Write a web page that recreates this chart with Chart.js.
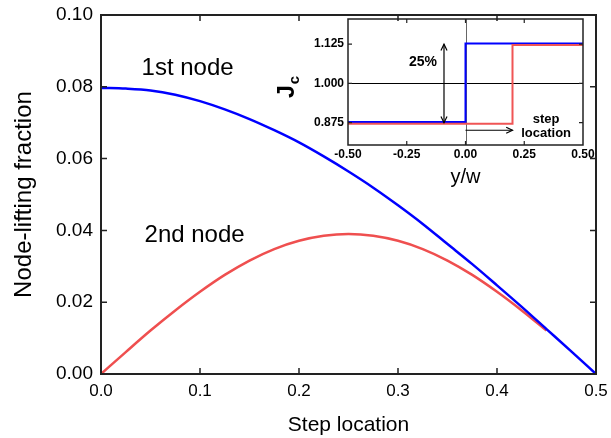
<!DOCTYPE html>
<html><head><meta charset="utf-8">
<script src="https://cdn.jsdelivr.net/npm/chart.js@4/dist/chart.umd.min.js"></script>
<style>
html,body{margin:0;padding:0;background:#fff;}
#wrap{position:relative;width:611px;height:438px;overflow:hidden;}
#main{position:absolute;left:0;top:0;}
#inset{position:absolute;left:270px;top:0;}
</style></head><body>
<div id="wrap">
<canvas id="main" width="611" height="438"></canvas>
<canvas id="inset" width="330" height="200"></canvas>
</div>
<script>
// ---- main chart data ----
const stepLocation = [0, 0.025, 0.05, 0.075, 0.1, 0.125, 0.15, 0.175, 0.2, 0.225, 0.25, 0.275, 0.3, 0.325, 0.35, 0.375, 0.4, 0.425, 0.45, 0.475, 0.5];
const firstNode = [0.0797, 0.0795, 0.0790, 0.0778, 0.0760, 0.0737, 0.0710, 0.0679, 0.0645, 0.0606, 0.0564, 0.0519, 0.0470, 0.0418, 0.0362, 0.0306, 0.0247, 0.0187, 0.0125, 0.0063, 0.0];
const secondNodeX = [0, 0.025, 0.05, 0.075, 0.1, 0.125, 0.15, 0.175, 0.2, 0.225, 0.25, 0.275, 0.3, 0.325, 0.35, 0.375, 0.4, 0.425, 0.45];
const secondNode = [0.0, 0.0061, 0.0121, 0.0177, 0.0229, 0.0276, 0.0316, 0.0348, 0.0371, 0.0385, 0.0390, 0.0385, 0.0371, 0.0348, 0.0316, 0.0276, 0.0229, 0.0177, 0.0121];
const xTickValues = [0, 0.1, 0.2, 0.3, 0.4, 0.5];
const xTickLabels = ['0.0', '0.1', '0.2', '0.3', '0.4', '0.5'];
const yTickValues = [0, 0.02, 0.04, 0.06, 0.08, 0.10];
const yTickLabels = ['0.00', '0.02', '0.04', '0.06', '0.08', '0.10'];

// ---- inset data ----
const insetBlueX = [-0.5, 0, 0, 0.5];
const insetBlueY = [0.877, 0.877, 1.127, 1.127];
const insetRedX = [-0.5, 0.2, 0.2, 0.5];
const insetRedY = [0.872, 0.872, 1.122, 1.122];
const insetXTickValues = [-0.5, -0.25, 0, 0.25, 0.5];
const insetXTickLabels = ['-0.50', '-0.25', '0.00', '0.25', '0.50'];
const insetYTickValues = [0.875, 1.0, 1.125];
const insetYTickLabels = ['0.875', '1.000', '1.125'];

const FONT = "'Liberation Sans', Arial, Helvetica, sans-serif";
const pts = (xs, ys) => xs.map((x, i) => ({x: x, y: ys[i]}));

// frame + inward ticks plugin
const framePlugin = {
  id: 'frame',
  beforeDatasetsDraw(chart, args, o) {
    if (!o.refLines) return;
    const {ctx, chartArea: a, scales: {x, y}} = chart;
    ctx.save();
    o.refLines.forEach(r => {
      ctx.strokeStyle = r.color; ctx.lineWidth = r.width;
      ctx.beginPath();
      if (r.axis === 'y') { const py = Math.round(y.getPixelForValue(r.value)) + 0.5; ctx.moveTo(a.left, py); ctx.lineTo(a.right, py); }
      else { const px = Math.round(x.getPixelForValue(r.value)) + 0.5; ctx.moveTo(px, a.top); ctx.lineTo(px, a.bottom); }
      ctx.stroke();
    });
    ctx.restore();
  },
  afterDatasetsDraw(chart, args, o) {
    const {ctx, chartArea: a, scales: {x, y}} = chart;
    ctx.save();
    ctx.strokeStyle = o.color;
    ctx.lineWidth = o.tickWidth;
    ctx.beginPath();
    x.ticks.forEach(t => {
      const px = x.getPixelForValue(t.value);
      if (px <= a.left + 1 || px >= a.right - 1) return;
      ctx.moveTo(px, a.bottom); ctx.lineTo(px, a.bottom - o.tickLen);
      ctx.moveTo(px, a.top); ctx.lineTo(px, a.top + o.tickLen);
    });
    y.ticks.forEach(t => {
      const py = y.getPixelForValue(t.value);
      if (py <= a.top + 1 || py >= a.bottom - 1) return;
      ctx.moveTo(a.left, py); ctx.lineTo(a.left + o.tickLen, py);
      ctx.moveTo(a.right, py); ctx.lineTo(a.right - o.tickLen, py);
    });
    ctx.stroke();
    ctx.lineWidth = o.width;
    ctx.strokeRect(a.left, a.top, a.right - a.left, a.bottom - a.top);
    // text notes
    (o.notes || []).forEach(n => {
      ctx.font = n.font; ctx.fillStyle = '#000';
      ctx.textAlign = n.align || 'left'; ctx.textBaseline = n.baseline || 'alphabetic';
      ctx.fillText(n.text, x.getPixelForValue(n.x), y.getPixelForValue(n.y));
    });
    // arrows
    (o.arrows || []).forEach(ar => {
      const x1 = x.getPixelForValue(ar.x1), y1 = y.getPixelForValue(ar.y1);
      const x2 = x.getPixelForValue(ar.x2), y2 = y.getPixelForValue(ar.y2);
      ctx.strokeStyle = '#000'; ctx.lineWidth = 1.2;
      ctx.beginPath(); ctx.moveTo(x1, y1); ctx.lineTo(x2, y2); ctx.stroke();
      const head = (hx, hy, ang) => {
        const L = 7, w = 0.45;
        ctx.beginPath();
        ctx.moveTo(hx - L * Math.cos(ang - w), hy - L * Math.sin(ang - w));
        ctx.lineTo(hx, hy);
        ctx.lineTo(hx - L * Math.cos(ang + w), hy - L * Math.sin(ang + w));
        ctx.stroke();
      };
      const ang = Math.atan2(y2 - y1, x2 - x1);
      head(x2, y2, ang);
      if (ar.both) head(x1, y1, ang + Math.PI);
    });
    // rotated label with subscript
    if (o.jc) {
      ctx.save();
      ctx.translate(o.jc.x, o.jc.y);
      ctx.rotate(-Math.PI / 2);
      ctx.fillStyle = '#000'; ctx.textAlign = 'left'; ctx.textBaseline = 'alphabetic';
      ctx.font = o.jc.font;
      ctx.fillText('J', 0, 0);
      const w = ctx.measureText('J').width;
      ctx.font = o.jc.subFont;
      ctx.fillText('c', w + 1, o.jc.subShift);
      ctx.restore();
    }
    ctx.restore();
  }
};

const noPadX = s => { s.paddingLeft = 0; s.paddingRight = 0; };
const noPadY = s => { s.paddingTop = 0; s.paddingBottom = 0; };

new Chart(document.getElementById('main'), {
  type: 'line',
  data: {
    datasets: [
      {label: '1st node', data: pts(stepLocation, firstNode), borderColor: '#0000ff', borderWidth: 2.5, pointRadius: 0, cubicInterpolationMode: 'monotone', order: 0},
      {label: '2nd node', data: pts(secondNodeX, secondNode), borderColor: '#ef4f4f', borderWidth: 2.5, pointRadius: 0, cubicInterpolationMode: 'monotone', order: 1}
    ]
  },
  options: {
    responsive: false, animation: false, devicePixelRatio: 1,
    layout: {padding: {top: 15, right: 15, left: 0, bottom: 0}},
    plugins: {
      legend: {display: false}, tooltip: {enabled: false},
      frame: {
        color: '#222', width: 2, tickWidth: 1.5, tickLen: 6,
        notes: [
          {text: '1st node', x: 0.041, y: 0.0833, font: '24px ' + FONT},
          {text: '2nd node', x: 0.044, y: 0.0369, font: '24px ' + FONT}
        ]
      }
    },
    scales: {
      x: {
        type: 'linear', min: 0, max: 0.5,
        afterFit(s) { s.height = 64; noPadX(s); },
        afterBuildTicks(s) { s.ticks = xTickValues.map(v => ({value: v})); },
        grid: {display: false, drawTicks: false}, border: {display: false},
        ticks: {padding: 7, color: '#000', font: {family: FONT, size: 17}, maxRotation: 0, autoSkip: false, callback: (v, i) => xTickLabels[i]},
        title: {display: true, text: 'Step location', color: '#000', font: {family: FONT, size: 21}, padding: {top: 0, bottom: 0}}
      },
      y: {
        type: 'linear', min: 0, max: 0.1,
        afterFit(s) { s.width = 101; noPadY(s); },
        afterBuildTicks(s) { s.ticks = yTickValues.map(v => ({value: v})); },
        grid: {display: false, drawTicks: false}, border: {display: false},
        ticks: {padding: 8, color: '#000', font: {family: FONT, size: 19}, autoSkip: false, callback: (v, i) => yTickLabels[i]},
        title: {display: true, text: 'Node-lifting fraction', color: '#000', font: {family: FONT, size: 24}, padding: {top: 10, bottom: 0}}
      }
    }
  },
  plugins: [framePlugin]
});

new Chart(document.getElementById('inset'), {
  type: 'line',
  data: {
    datasets: [
      {label: 'blue', data: pts(insetBlueX, insetBlueY), borderColor: '#0000ff', borderWidth: 2, pointRadius: 0, tension: 0, order: 1},
      {label: 'red', data: pts(insetRedX, insetRedY), borderColor: '#f05555', borderWidth: 2, pointRadius: 0, tension: 0, order: 0}
    ]
  },
  options: {
    responsive: false, animation: false, devicePixelRatio: 1,
    layout: {padding: {top: 19, right: 17, left: 0, bottom: 0}},
    plugins: {
      legend: {display: false}, tooltip: {enabled: false},
      frame: {
        color: '#222', width: 1.5, tickWidth: 1.2, tickLen: 4,
        refLines: [
          {axis: 'y', value: 1.0, color: '#000', width: 1},
          {axis: 'x', value: 0, color: '#666', width: 1}
        ],
        notes: [
          {text: '25%', x: -0.181, y: 1.068, font: 'bold 14px ' + FONT, align: 'center', baseline: 'middle'},
          {text: 'step', x: 0.343, y: 0.886, font: 'bold 13px ' + FONT, align: 'center', baseline: 'middle'},
          {text: 'location', x: 0.343, y: 0.842, font: 'bold 13px ' + FONT, align: 'center', baseline: 'middle'}
        ],
        arrows: [
          {x1: -0.0915, y1: 0.875, x2: -0.0915, y2: 1.125, both: true},
          {x1: 0.0, y1: 0.851, x2: 0.2, y2: 0.851, both: false}
        ],
        jc: {x: 24, y: 98, font: 'bold 23px ' + FONT, subFont: 'bold 15px ' + FONT, subShift: 5}
      }
    },
    scales: {
      x: {
        type: 'linear', min: -0.5, max: 0.5,
        afterFit(s) { s.height = 55; noPadX(s); },
        afterBuildTicks(s) { s.ticks = insetXTickValues.map(v => ({value: v})); },
        grid: {display: false, drawTicks: false}, border: {display: false},
        ticks: {padding: 2, color: '#000', font: {family: FONT, size: 12, weight: 'bold'}, maxRotation: 0, autoSkip: false, callback: (v, i) => insetXTickLabels[i]},
        title: {display: true, text: 'y/w', color: '#000', font: {family: FONT, size: 20}, padding: {top: 0, bottom: 11}}
      },
      y: {
        type: 'linear', min: 0.804, max: 1.205,
        afterFit(s) { s.width = 78; noPadY(s); },
        afterBuildTicks(s) { s.ticks = insetYTickValues.map(v => ({value: v})); },
        grid: {display: false, drawTicks: false}, border: {display: false},
        ticks: {padding: 4, color: '#000', font: {family: FONT, size: 12, weight: 'bold'}, autoSkip: false, callback: (v, i) => insetYTickLabels[i]}
      }
    }
  },
  plugins: [framePlugin]
});
</script>
</body></html>
